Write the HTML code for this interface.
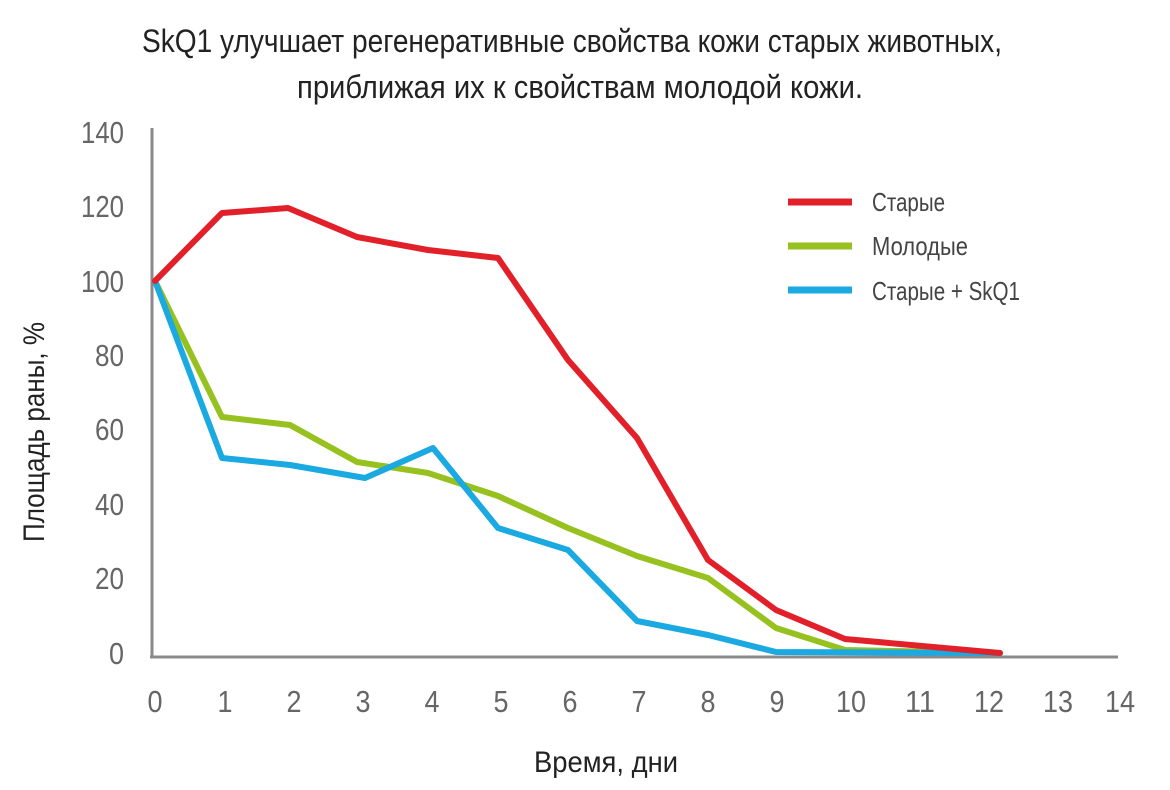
<!DOCTYPE html>
<html><head><meta charset="utf-8"><style>
html,body{margin:0;padding:0;background:#fff;}
svg{display:block;font-family:"Liberation Sans Narrow","Liberation Sans",sans-serif;}
</style></head><body>
<svg width="1170" height="790" viewBox="0 0 1170 790" xmlns="http://www.w3.org/2000/svg">
<text x="572" y="52" font-size="32" fill="#222" text-anchor="middle" textLength="860" lengthAdjust="spacingAndGlyphs">SkQ1 улучшает регенеративные свойства кожи старых животных,</text>
<text x="580" y="98" font-size="32" fill="#222" text-anchor="middle" textLength="566" lengthAdjust="spacingAndGlyphs">приближая их к свойствам молодой кожи.</text>
<line x1="152" y1="128" x2="152" y2="658" stroke="#8a8a8a" stroke-width="3"/>
<line x1="150" y1="657" x2="1118" y2="657" stroke="#8a8a8a" stroke-width="3"/>
<g font-size="31" fill="#666" text-anchor="end" lengthAdjust="spacingAndGlyphs">
<text x="124" y="143" textLength="43" lengthAdjust="spacingAndGlyphs">140</text>
<text x="124" y="217" textLength="43" lengthAdjust="spacingAndGlyphs">120</text>
<text x="124" y="292" textLength="43" lengthAdjust="spacingAndGlyphs">100</text>
<text x="124" y="366" textLength="29" lengthAdjust="spacingAndGlyphs">80</text>
<text x="124" y="440" textLength="29" lengthAdjust="spacingAndGlyphs">60</text>
<text x="124" y="515" textLength="29" lengthAdjust="spacingAndGlyphs">40</text>
<text x="124" y="589" textLength="29" lengthAdjust="spacingAndGlyphs">20</text>
<text x="124" y="664" textLength="15" lengthAdjust="spacingAndGlyphs">0</text>
</g>
<g font-size="31" fill="#666" text-anchor="middle">
<text x="155" y="712" textLength="15" lengthAdjust="spacingAndGlyphs">0</text>
<text x="225" y="712" textLength="15" lengthAdjust="spacingAndGlyphs">1</text>
<text x="294" y="712" textLength="15" lengthAdjust="spacingAndGlyphs">2</text>
<text x="363" y="712" textLength="15" lengthAdjust="spacingAndGlyphs">3</text>
<text x="432" y="712" textLength="15" lengthAdjust="spacingAndGlyphs">4</text>
<text x="501" y="712" textLength="15" lengthAdjust="spacingAndGlyphs">5</text>
<text x="570" y="712" textLength="15" lengthAdjust="spacingAndGlyphs">6</text>
<text x="639" y="712" textLength="15" lengthAdjust="spacingAndGlyphs">7</text>
<text x="708" y="712" textLength="15" lengthAdjust="spacingAndGlyphs">8</text>
<text x="777" y="712" textLength="15" lengthAdjust="spacingAndGlyphs">9</text>
<text x="851" y="712" textLength="30" lengthAdjust="spacingAndGlyphs">10</text>
<text x="920" y="712" textLength="30" lengthAdjust="spacingAndGlyphs">11</text>
<text x="989" y="712" textLength="30" lengthAdjust="spacingAndGlyphs">12</text>
<text x="1058" y="712" textLength="30" lengthAdjust="spacingAndGlyphs">13</text>
<text x="1120" y="712" textLength="30" lengthAdjust="spacingAndGlyphs">14</text>
</g>
<text x="606" y="772" font-size="30" fill="#222" text-anchor="middle" textLength="144" lengthAdjust="spacingAndGlyphs">Время, дни</text>
<text transform="translate(44,432) rotate(-90)" font-size="30" fill="#222" text-anchor="middle" textLength="220" lengthAdjust="spacingAndGlyphs">Площадь раны, %</text>
<g fill="none" stroke-width="6" stroke-linejoin="round" stroke-linecap="round">
<polyline stroke="#96c11f" points="155,281 222,417 290,425 357,462 428,473 498,496 568,528 637,556 708,578 776,628 845,650 1000,653"/>
<polyline stroke="#1aa9e1" points="155,281 222,458 290,465 365,478 433,448 498,528 568,550 637,621 708,635 776,652 1000,653"/>
<polyline stroke="#e2202a" points="155,281 222,213 288,208 357,237 428,250 498,258 568,360 637,438 708,560 776,610 845,639 1000,653"/>
</g>
<g stroke-width="7">
<line x1="788" y1="202" x2="852" y2="202" stroke="#e2202a"/>
<line x1="788" y1="246" x2="852" y2="246" stroke="#96c11f"/>
<line x1="788" y1="290" x2="852" y2="290" stroke="#1aa9e1"/>
</g>
<g font-size="26" fill="#444">
<text x="872" y="211" textLength="73" lengthAdjust="spacingAndGlyphs">Старые</text>
<text x="872" y="255" textLength="96" lengthAdjust="spacingAndGlyphs">Молодые</text>
<text x="872" y="300" textLength="148" lengthAdjust="spacingAndGlyphs">Старые + SkQ1</text>
</g>
</svg>
</body></html>
